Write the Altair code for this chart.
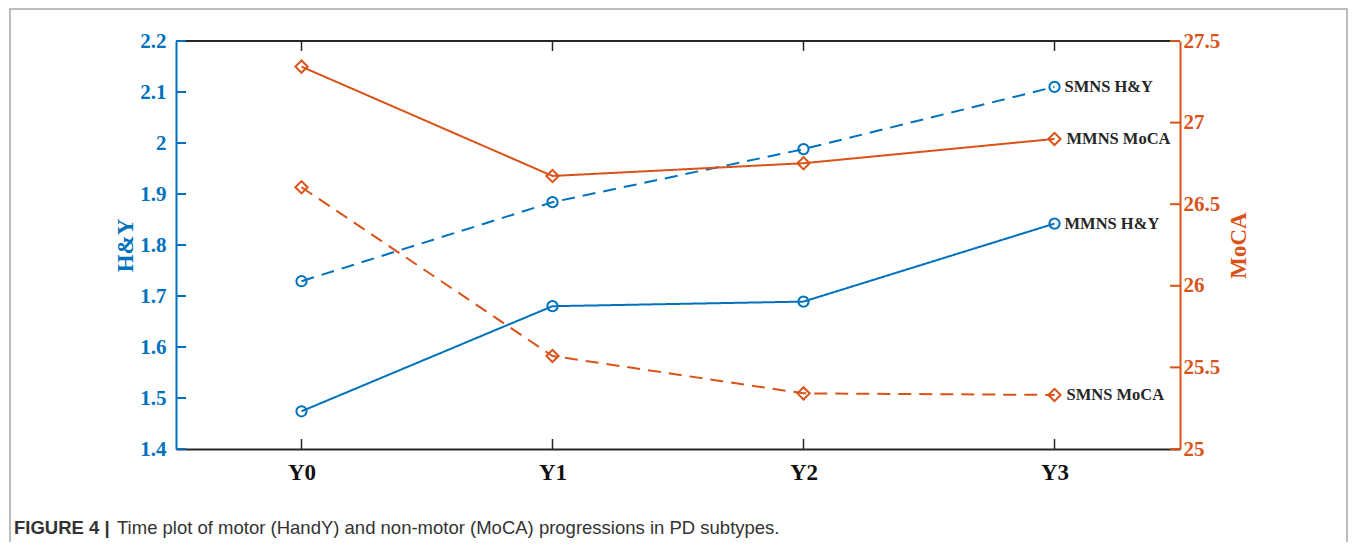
import altair as alt
import pandas as pd

# ---------------- data ----------------
years = ["Y0", "Y1", "Y2", "Y3"]
smns_hy = [1.729, 1.884, 1.988, 2.110]
mmns_hy = [1.474, 1.680, 1.689, 1.842]
mmns_moca = [27.343, 26.673, 26.751, 26.900]
smns_moca = [26.604, 25.570, 25.341, 25.331]
hy_ticks = [1.4, 1.5, 1.6, 1.7, 1.8, 1.9, 2.0, 2.1, 2.2]
moca_ticks = [25, 25.5, 26, 26.5, 27, 27.5]
hy_series = ["SMNS H&Y", "MMNS H&Y"]
moca_series = ["MMNS MoCA", "SMNS MoCA"]
caption_bold = "FIGURE 4 |"
caption_text = "Time plot of motor (HandY) and non-motor (MoCA) progressions in PD subtypes."

BLUE = "#0072BD"
ORANGE = "#D95319"
DARK = "#262626"
SERIF = "Liberation Serif"
SANS = "Liberation Sans, Arial, sans-serif"
W, H = 1004, 408

hy_df = pd.DataFrame({
    "year": years * 2,
    "value": smns_hy + mmns_hy,
    "series": [hy_series[0]] * 4 + [hy_series[1]] * 4,
    "dash": ["SMNS"] * 4 + ["MMNS"] * 4,
})
moca_df = pd.DataFrame({
    "year": years * 2,
    "value": mmns_moca + smns_moca,
    "series": [moca_series[0]] * 4 + [moca_series[1]] * 4,
    "dash": ["MMNS"] * 4 + ["SMNS"] * 4,
})
hy_lab = pd.DataFrame({"year": [years[-1]] * 2, "value": [smns_hy[-1], mmns_hy[-1]], "series": hy_series})
moca_lab = pd.DataFrame({"year": [years[-1]] * 2, "value": [mmns_moca[-1], smns_moca[-1]], "series": moca_series})
hy_tick_df = pd.DataFrame({"value": hy_ticks})
moca_tick_df = pd.DataFrame({"value": moca_ticks})
year_df = pd.DataFrame({"year": years})
cap_df = pd.DataFrame({"bold": [caption_bold], "text": [caption_text]})

x_axis = alt.Axis(orient="bottom", domainColor=DARK, domainWidth=2, ticks=False,
                  labelFont=SERIF, labelFontWeight="bold", labelFontSize=23,
                  labelColor="#111111", labelPadding=12, labelAngle=0, title=None, grid=False)
x_scale = alt.Scale(type="point", padding=0.5, domain=years)


def X():
    return alt.X("year:O", scale=x_scale, axis=x_axis, sort=years)


dash_scale = alt.Scale(domain=["MMNS", "SMNS"], range=[[1, 0], [13, 8]])

# ---------------- H&Y (left axis) ----------------
hy_scale = alt.Scale(domain=[1.4, 2.2], nice=False, zero=False)
hy_axis = alt.Axis(orient="left", values=hy_ticks, format="~g", domainColor=BLUE, domainWidth=2,
                   ticks=False, labelColor=BLUE, labelFont=SERIF, labelFontWeight="bold",
                   labelFontSize=21, labelPadding=10, title="H&Y", titleColor=BLUE,
                   titleFont=SERIF, titleFontWeight="bold", titleFontSize=23, titlePadding=2,
                   grid=False)


def YH():
    return alt.Y("value:Q", scale=hy_scale, axis=hy_axis)


hy_lines = alt.Chart(hy_df).mark_line(color=BLUE, strokeWidth=2).encode(
    x=X(), y=YH(),
    strokeDash=alt.StrokeDash("dash:N", scale=dash_scale, legend=None),
    detail="series:N")
hy_pts = alt.Chart(hy_df).mark_point(shape="circle", filled=False, color=BLUE, size=105,
                                     strokeWidth=2, opacity=1).encode(x=X(), y=YH())
hy_tk = alt.Chart(hy_tick_df).mark_rule(color=BLUE, strokeWidth=2).encode(
    x=alt.value(0), x2=alt.value(10), y=YH())
hy_txt = alt.Chart(hy_lab).mark_text(align="left", baseline="middle", dx=10, font=SERIF,
                                     fontWeight="bold", fontSize=16.5, color=DARK).encode(
    x=X(), y=YH(), text="series:N")
blue = alt.layer(hy_lines, hy_pts, hy_tk, hy_txt)

# ---------------- MoCA (right axis) ----------------
moca_scale = alt.Scale(domain=[25, 27.5], nice=False, zero=False)
moca_axis = alt.Axis(orient="right", values=moca_ticks, format="~g", domainColor=ORANGE, domainWidth=2,
                     ticks=False, labelColor=ORANGE, labelFont=SERIF, labelFontWeight="bold",
                     labelFontSize=21, labelPadding=3, title="MoCA", titleColor=ORANGE,
                     titleFont=SERIF, titleFontWeight="bold", titleFontSize=23, titlePadding=8,
                     titleAngle=270, titleBaseline="top", grid=False)


def YM():
    return alt.Y("value:Q", scale=moca_scale, axis=moca_axis)


mo_lines = alt.Chart(moca_df).mark_line(color=ORANGE, strokeWidth=2).encode(
    x=X(), y=YM(),
    strokeDash=alt.StrokeDash("dash:N", scale=dash_scale, legend=None),
    detail="series:N")
mo_pts = alt.Chart(moca_df).mark_point(shape="diamond", filled=False, color=ORANGE, size=150,
                                       strokeWidth=2, opacity=1).encode(x=X(), y=YM())
mo_tk = alt.Chart(moca_tick_df).mark_rule(color=ORANGE, strokeWidth=2).encode(
    x=alt.value(W), x2=alt.value(W - 10), y=YM())
mo_txt = alt.Chart(moca_lab).mark_text(align="left", baseline="middle", dx=12, font=SERIF,
                                       fontWeight="bold", fontSize=16.5, color=DARK).encode(
    x=X(), y=YM(), text="series:N")
orange = alt.layer(mo_lines, mo_pts, mo_tk, mo_txt)

# ---------------- frame, x ticks, caption ----------------
frame_rect = alt.Chart(cap_df).mark_rect(fillOpacity=0, stroke="#a8a8a8", strokeWidth=1.5).encode(
    x=alt.value(-166), x2=alt.value(1171), y=alt.value(-32), y2=alt.value(530))
top_line = alt.Chart(cap_df).mark_rule(color=DARK, strokeWidth=2).encode(
    x=alt.value(0), x2=alt.value(W), y=alt.value(0))
xt_bot = alt.Chart(year_df).mark_rule(color=DARK, strokeWidth=1.5).encode(
    x=X(), y=alt.value(H), y2=alt.value(H - 10))
xt_top = alt.Chart(year_df).mark_rule(color=DARK, strokeWidth=1.5).encode(
    x=X(), y=alt.value(0), y2=alt.value(10))
cap_b = alt.Chart(cap_df).mark_text(align="left", baseline="middle", font=SANS, fontWeight="bold",
                                    fontSize=18.5, color="#333333").encode(
    x=alt.value(-162), y=alt.value(487), text="bold:N")
cap_t = alt.Chart(cap_df).mark_text(align="left", baseline="middle", font=SANS,
                                    fontSize=18.5, color="#333333").encode(
    x=alt.value(-59), y=alt.value(487), text="text:N")
frame = alt.layer(frame_rect, top_line, xt_bot, xt_top, cap_b, cap_t)

chart = alt.layer(frame, blue, orange).resolve_scale(y="independent").properties(
    width=W, height=H,
    padding={"left": 168, "top": 33, "right": 169, "bottom": 93},
    autosize=alt.AutoSizeParams(type="none"),
    background="white",
).configure_view(stroke=None)

chart.save("out.html", embed_options={"renderer": "svg", "actions": False})
